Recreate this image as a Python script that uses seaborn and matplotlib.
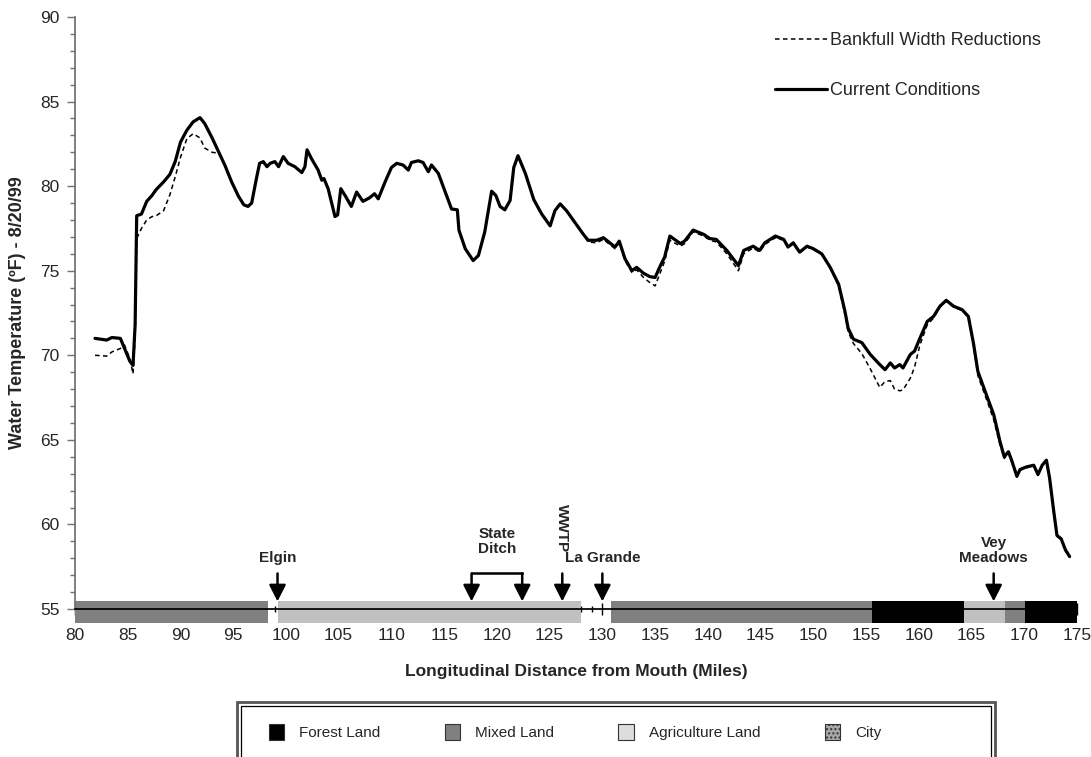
import matplotlib
matplotlib.use("Agg")
import matplotlib.pyplot as plt
from matplotlib.lines import Line2D
from matplotlib.patches import Patch, Rectangle
from matplotlib.ticker import MultipleLocator
import pandas as pd
import seaborn as sns

# Longitudinal profile of water temperature, 8/20/99
river_mile = [
    81.9, 83.0, 83.5, 84.3, 84.7, 85.2, 85.5, 85.7, 85.85, 86.3,
    86.8, 87.3, 87.7, 88.4, 89.0, 89.5, 90.0, 90.6, 91.2, 91.85,
    92.3, 93.0, 93.6, 94.2, 94.85, 95.5, 96.0, 96.4, 96.75, 97.2,
    97.5, 97.85, 98.2, 98.5, 98.95, 99.3, 99.75, 100.2, 100.85, 101.5,
    101.8, 102.0, 102.4, 103.05, 103.4, 103.6, 104.0, 104.3, 104.65, 104.9,
    105.2, 105.65, 106.2, 106.7, 107.3, 107.9, 108.4, 108.75, 109.4, 110.0,
    110.5, 111.1, 111.6, 111.9, 112.55, 113.0, 113.5, 113.8, 114.45, 115.1,
    115.7, 116.25, 116.4, 117.0, 117.75, 118.25, 118.85, 119.5, 119.9, 120.3,
    120.75, 121.25, 121.6, 122.0, 122.7, 123.5, 124.25, 125.05, 125.5, 126.0,
    126.6, 127.4, 128.2, 128.65, 129.45, 130.1, 130.6, 131.2, 131.6, 132.15,
    132.8, 133.25, 133.9, 134.5, 135.0, 135.5, 135.9, 136.4, 137.4, 137.8,
    138.6, 139.6, 140.2, 140.8, 141.8, 142.9, 143.4, 144.3, 144.9, 145.4,
    146.4, 147.2, 147.6, 148.1, 148.7, 149.4, 150.0, 150.8, 151.6, 152.4,
    153.0, 153.3, 153.8, 154.6, 155.4, 156.3, 156.8, 157.3, 157.7, 158.2,
    158.5, 159.2, 159.6, 160.1, 160.8, 161.4, 162.0, 162.6, 163.3, 164.1,
    164.7, 165.2, 165.6, 166.3, 167.1, 167.7, 168.1, 168.5, 168.8, 169.3,
    169.6, 170.2, 170.9, 171.3, 171.7, 172.1, 172.4, 172.8, 173.1, 173.5,
    173.9, 174.3,
]

current_temp = [
    71.0, 70.9, 71.05, 71.0, 70.4, 69.65, 69.4, 71.8, 78.25, 78.35,
    79.1, 79.45, 79.8, 80.25, 80.7, 81.45, 82.6, 83.3, 83.8, 84.05,
    83.7, 82.85, 82.05, 81.25, 80.25, 79.4, 78.9, 78.8, 79.0, 80.45,
    81.35, 81.45, 81.15, 81.35, 81.45, 81.15, 81.75, 81.35, 81.15, 80.8,
    81.15, 82.15, 81.65, 80.95, 80.35, 80.45, 79.85, 79.1, 78.2, 78.3,
    79.85, 79.4, 78.8, 79.65, 79.1, 79.3, 79.55, 79.25, 80.25, 81.1,
    81.35, 81.25, 80.95, 81.4, 81.5, 81.4, 80.85, 81.25, 80.75, 79.65,
    78.65, 78.6, 77.4, 76.3, 75.6, 75.9, 77.3, 79.7, 79.45, 78.8,
    78.6, 79.15, 81.1, 81.8, 80.75, 79.2, 78.35, 77.65, 78.55, 78.95,
    78.55, 77.85, 77.15, 76.8, 76.8, 76.95, 76.7, 76.4, 76.75, 75.7,
    75.0, 75.2, 74.85, 74.65, 74.6, 75.3, 75.8, 77.05, 76.6, 76.75,
    77.4, 77.15, 76.9, 76.85, 76.2, 75.3, 76.2, 76.45, 76.2, 76.65,
    77.05, 76.85, 76.4, 76.65, 76.1, 76.45, 76.3, 76.0, 75.2, 74.2,
    72.6, 71.6, 70.95, 70.75, 70.05, 69.45, 69.15, 69.55, 69.25, 69.45,
    69.25, 70.05, 70.25, 71.0, 72.0, 72.3, 72.9, 73.25, 72.9, 72.7,
    72.3, 70.65, 69.05, 67.85, 66.5, 64.9, 64.0, 64.3, 63.8, 62.85,
    63.25, 63.4, 63.5, 62.95, 63.5, 63.8, 62.75, 60.75, 59.35, 59.15,
    58.5, 58.1,
]

bankfull_temp = [
    70.0, 69.95, 70.2, 70.4, 70.6, 69.8, 68.9, 71.0, 76.9, 77.5,
    78.0, 78.2, 78.25, 78.55, 79.5, 80.55, 81.7, 82.8, 83.1, 82.85,
    82.25, 82.0, 81.95, 81.25, 80.25, 79.4, 78.9, 78.8, 79.0, 80.45,
    81.35, 81.45, 81.15, 81.35, 81.45, 81.15, 81.75, 81.35, 81.15, 80.8,
    81.15, 82.15, 81.65, 80.95, 80.35, 80.45, 79.85, 79.1, 78.2, 78.3,
    79.85, 79.4, 78.8, 79.65, 79.1, 79.3, 79.55, 79.25, 80.25, 81.1,
    81.35, 81.25, 80.95, 81.4, 81.5, 81.4, 80.85, 81.25, 80.75, 79.65,
    78.65, 78.6, 77.4, 76.3, 75.6, 75.9, 77.3, 79.7, 79.45, 78.8,
    78.6, 79.15, 81.1, 81.8, 80.75, 79.2, 78.35, 77.65, 78.55, 78.95,
    78.55, 77.85, 77.15, 76.7, 76.65, 76.85, 76.6, 76.3, 76.65, 75.6,
    74.9, 75.05, 74.6, 74.3, 74.1, 74.9, 75.55, 76.8, 76.45, 76.6,
    77.3, 77.05, 76.8, 76.7, 76.0, 75.0, 76.0, 76.35, 76.1, 76.55,
    76.95, 76.8, 76.35, 76.6, 76.05, 76.4, 76.25, 75.95, 75.15, 74.1,
    72.4, 71.4, 70.7, 70.1, 69.2, 68.1, 68.45, 68.5, 68.0, 67.9,
    67.95, 68.65, 69.3, 70.6, 71.8, 72.2, 72.85, 73.2, 72.85, 72.65,
    72.25, 70.5, 68.8, 67.6, 66.2, 64.7, 63.9, 64.2, 63.7, 62.8,
    63.2, 63.35, 63.45, 62.9, 63.45, 63.75, 62.7, 60.6, 59.3, 59.1,
    58.45, 58.05,
]

# Land use along the river (start/end mile of each reach)
land_start = [80.0, 99.2, 130.8, 155.6, 164.3, 168.15, 170.1]
land_end = [98.3, 128.0, 155.6, 164.3, 168.15, 170.1, 175.0]
land_use = ["Mixed Land", "Agriculture Land", "Mixed Land", "Forest Land",
            "Agriculture Land", "Mixed Land", "Forest Land"]
legend_land = ["Forest Land", "Mixed Land", "Agriculture Land", "City"]

# Landmarks along the river
site_names = ["Elgin", "WWTP", "La Grande", "Vey\nMeadows"]
site_miles = [99.2, 126.2, 130.0, 167.1]
ditch_label = "State\nDitch"
ditch_miles = [117.6, 122.4]

series_names = ["Bankfull Width Reductions", "Current Conditions"]

land_colors = {"Forest Land": "#000000", "Mixed Land": "#808080",
               "Agriculture Land": "#c0c0c0", "City": "#9a9a9a"}
swatch_colors = {"Forest Land": "#000000", "Mixed Land": "#808080",
                 "Agriculture Land": "#dddddd", "City": "#a8a8a8"}

sns.set_theme(style="ticks")
plt.rcParams["font.family"] = ["Liberation Sans", "DejaVu Sans"]
plt.rcParams["font.size"] = 11

fig = plt.figure(figsize=(10.91, 7.57), dpi=100)
ax = fig.add_axes([75 / 1091, 1 - 609 / 757, 1002 / 1091, 592 / 757])

df = pd.DataFrame({
    "mile": river_mile * 2,
    "temp": bankfull_temp + current_temp,
    "scenario": [series_names[0]] * len(river_mile) + [series_names[1]] * len(river_mile),
})

sns.lineplot(data=df[df["scenario"] == series_names[0]], x="mile", y="temp",
             color="black", linewidth=1.1, linestyle=(0, (3, 2.2)),
             estimator=None, sort=False, legend=False, ax=ax, zorder=3)
sns.lineplot(data=df[df["scenario"] == series_names[1]], x="mile", y="temp",
             color="black", linewidth=2.3, estimator=None, sort=False,
             legend=False, ax=ax, zorder=4)

# Land-use strip straddling the x axis
bars = ax.barh([54.8] * len(land_start),
               [e - s for s, e in zip(land_start, land_end)],
               left=land_start, height=1.3,
               color=[land_colors[u] for u in land_use], linewidth=0, zorder=1)
for b in bars:
    b.set_clip_on(False)

arrow_kw = dict(arrowstyle="-|>,head_length=0.55,head_width=0.28", color="black",
                lw=1.8, mutation_scale=18, shrinkA=0, shrinkB=0)
arrow_top, arrow_tip = 57.1, 55.45

for name, mile in zip(site_names, site_miles):
    ax.annotate("", xy=(mile, arrow_tip), xytext=(mile, arrow_top),
                arrowprops=arrow_kw, annotation_clip=False, zorder=5)
    if name == "WWTP":
        ax.text(mile, 58.35, name, ha="center", va="bottom", rotation=270,
                fontsize=11, fontweight="bold")
    else:
        ax.text(mile, 57.6, name, ha="center", va="bottom",
                fontsize=11, fontweight="bold", linespacing=1.05)

for mile in ditch_miles:
    ax.annotate("", xy=(mile, arrow_tip), xytext=(mile, arrow_top),
                arrowprops=arrow_kw, annotation_clip=False, zorder=5)
ax.plot(ditch_miles, [arrow_top, arrow_top], color="black", lw=1.8,
        solid_capstyle="projecting", zorder=5)
ax.text(sum(ditch_miles) / 2, 58.15, ditch_label, ha="center", va="bottom",
        fontsize=11, fontweight="bold", linespacing=1.05)

ax.set_xlim(80, 175)
ax.set_ylim(55, 90)
ax.xaxis.set_major_locator(MultipleLocator(5))
ax.xaxis.set_minor_locator(MultipleLocator(1))
ax.yaxis.set_major_locator(MultipleLocator(5))
ax.yaxis.set_minor_locator(MultipleLocator(1))
ax.tick_params(axis="x", which="major", direction="inout", length=9, width=1,
               pad=9, labelsize=12.5, color="black")
ax.tick_params(axis="x", which="minor", direction="inout", length=5, width=1,
               color="black")
ax.tick_params(axis="y", which="major", direction="out", length=6, width=1,
               pad=5, labelsize=12.5, color="#707070")
ax.tick_params(axis="y", which="minor", direction="out", length=3.5, width=1,
               color="#707070")
for side in ("top", "right"):
    ax.spines[side].set_visible(False)
ax.spines["left"].set_color("#707070")
ax.spines["bottom"].set_color("black")
ax.spines["bottom"].set_zorder(2.6)

ax.set_xlabel("Longitudinal Distance from Mouth (Miles)", fontsize=12.5,
              fontweight="bold")
ax.set_ylabel("Water Temperature (ºF) - 8/20/99", fontsize=13,
              fontweight="bold")
ax.xaxis.set_label_coords(0.5, -0.093)
ax.yaxis.set_label_coords(-0.049, 0.5)

# Scenario legend, top right
line_handles = [
    Line2D([], [], color="black", lw=1.1, linestyle=(0, (3, 2.2))),
    Line2D([], [], color="black", lw=2.3),
]
ax.legend(line_handles, series_names, loc="upper left",
          bbox_to_anchor=(775 / 1091, 1 - 32 / 757),
          bbox_transform=fig.transFigure, frameon=False, fontsize=13,
          handlelength=2.9, handletextpad=0.15, labelspacing=1.85,
          borderpad=0, borderaxespad=0)

# Land-use legend, bottom box with double border
patch_handles = []
for u in legend_land:
    p = Patch(facecolor=swatch_colors[u], edgecolor="#333333", linewidth=0.8)
    if u == "City":
        p.set_hatch("....")
    patch_handles.append(p)
fig.legend(patch_handles, legend_land, ncol=4, loc="center",
           bbox_to_anchor=(0.527, 1 - 732 / 757), frameon=False, fontsize=11,
           handlelength=1.0, handleheight=1.2, handletextpad=1.0,
           columnspacing=4.2)
fig.add_artist(Rectangle((237 / 1091, -0.1), (995 - 237) / 1091,
                         0.1 + 1 - 702 / 757, fill=False, lw=2,
                         edgecolor="#555555", transform=fig.transFigure))
fig.add_artist(Rectangle((241 / 1091, -0.1), (991 - 241) / 1091,
                         0.1 + 1 - 706 / 757, fill=False, lw=0.9,
                         edgecolor="black", transform=fig.transFigure))

fig.savefig("out.png", dpi=100)
